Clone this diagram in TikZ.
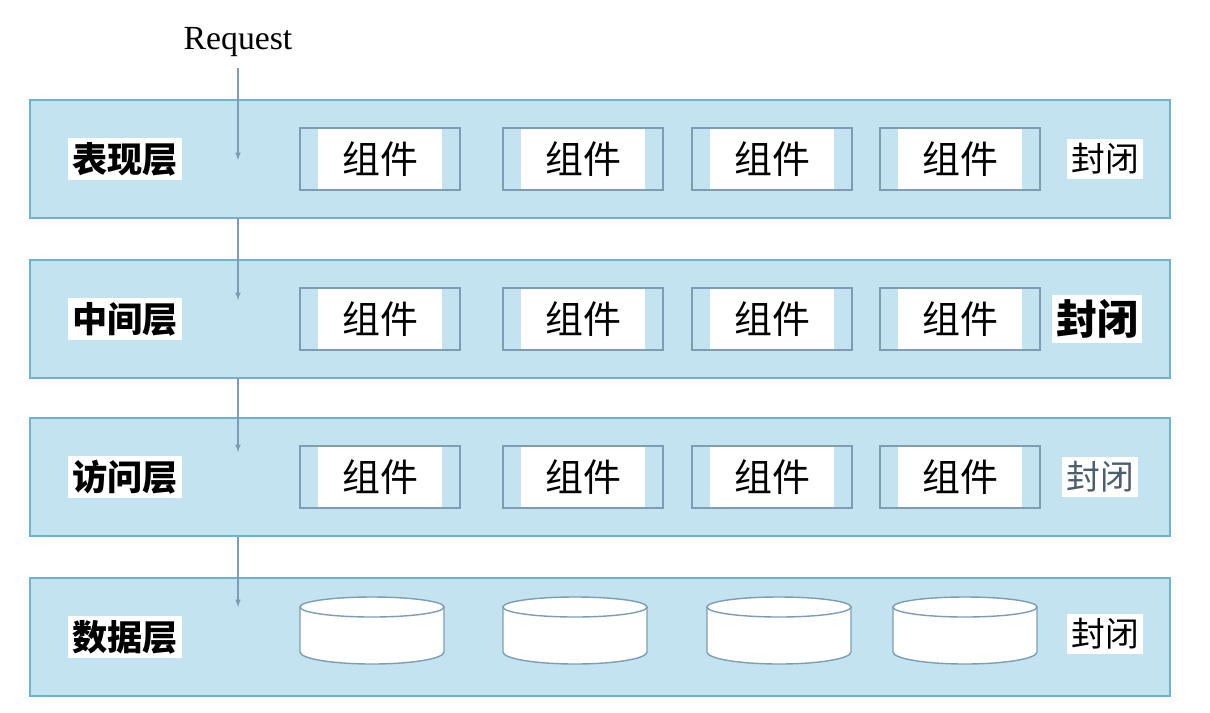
\documentclass[tikz,border=0pt]{standalone}
\usepackage{fontspec}
\setmainfont{Liberation Serif}
\newfontfamily\cjk{Noto Sans CJK SC}
\definecolor{bandfill}{HTML}{C4E3F0}
\definecolor{bandline}{HTML}{6FB3D3}
\definecolor{boxline}{HTML}{7E9DB3}
\tikzset{
  band/.style={draw=bandline,line width=1.5pt,fill=bandfill},
  layername/.style={fill=white,font=\cjk\bfseries\fontsize{25pt}{27pt}\selectfont,inner sep=3pt},
  compbox/.style={draw=boxline,line width=1pt,minimum width=4cm,minimum height=1.55cm},
  comptext/.style={fill=white,font=\cjk\fontsize{27pt}{29pt}\selectfont,minimum width=3.1cm,minimum height=1.5cm},
  closed/.style={fill=white,font=\cjk\fontsize{24pt}{26pt}\selectfont,inner sep=3pt},
  dbline/.style={draw=boxline,line width=1pt,fill=white}
}
\begin{document}
\begin{tikzpicture}[x=0.025cm,y=-0.025cm,>=latex]
  \useasboundingbox[fill=white] (0,0) rectangle (1210,712);
  % request label
  \node (req) at (238,42) {\fontsize{24pt}{26pt}\selectfont Request};

  % the four layers
  \foreach \i/\y/\name in {1/159/表现层,2/319/中间层,3/477/访问层,4/637/数据层}{
    \draw[band] (30,\y-59) rectangle (1170,\y+59);
    \node[layername] (l\i) at (125,\y) {\name};
  }

  % components of the upper layers
  \foreach \i/\y in {1/159,2/319,3/477}
    \foreach \j/\x in {1/380,2/583,3/772,4/960}{
      \node[compbox] (c\i\j) at (\x,\y) {};
      \node[comptext] at (c\i\j) {组件};
    }
  \node[closed] (e1) at (1105,159) {封闭};
  \node[closed,font=\cjk\bfseries\fontsize{29pt}{31pt}\selectfont] (e2) at (1097,319) {封闭};
  \node[closed,text=boxline!60!black] (e3) at (1100,477) {封闭};
  \node[closed] (e4) at (1105,634) {封闭};

  % databases
  \foreach \j/\x in {1/372,2/575,3/779,4/965}{
    \draw[dbline] (\x-72,607) -- (\x-72,652) arc[start angle=180,end angle=0,x radius=72,y radius=12]
      -- (\x+72,607) -- cycle;
    \draw[dbline] (\x,607) ellipse[x radius=72,y radius=10];
  }

  % request flow
  \coordinate (a0) at (238,68);
  \coordinate (a1) at (238,160);
  \coordinate (b0) at (238,218);
  \coordinate (b1) at (238,300);
  \coordinate (c0) at (238,378);
  \coordinate (c1) at (238,452);
  \coordinate (d0) at (238,537);
  \coordinate (f1) at (238,607);
  \draw[->,boxline,line width=0.8pt] (a0) -- (a1);
  \draw[->,boxline,line width=0.8pt] (b0) -- (b1);
  \draw[->,boxline,line width=0.8pt] (c0) -- (c1);
  \draw[->,boxline,line width=0.8pt] (d0) -- (f1);
\end{tikzpicture}
\end{document}
